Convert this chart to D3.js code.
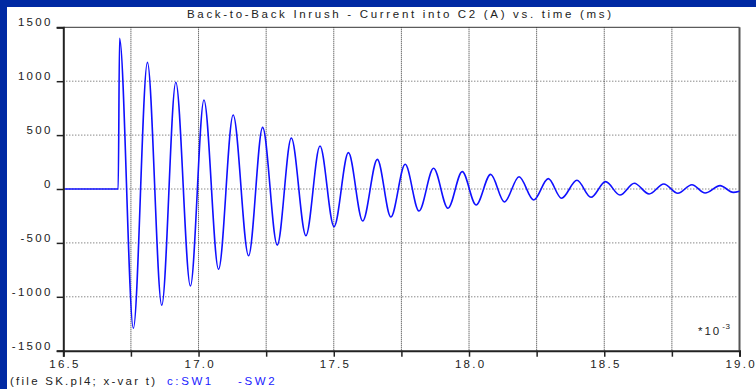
<!DOCTYPE html>
<html>
<head>
<meta charset="utf-8">
<script src="https://cdn.jsdelivr.net/npm/d3@7"></script>
<style>
  html, body { margin: 0; padding: 0; background: #fff; }
  svg { display: block; font-family: "Liberation Sans", Arial, sans-serif; }
</style>
</head>
<body>
<svg id="chart" width="756" height="389"></svg>
<script>
// chart data
const titleText = "Back-to-Back Inrush - Current into C2 (A) vs. time (ms)";
const yTicks = [-1500, -1000, -500, 0, 500, 1000, 1500];
const xTicks = [16.5, 16.75, 17.0, 17.25, 17.5, 17.75, 18.0, 18.25, 18.5, 18.75, 19.0];
const xLabels = [16.5, 17.0, 17.5, 18.0, 18.5, 19.0];

// time (ms) and current (A) at the step and at every extreme of the ringing
const timeMs = [16.5, 16.703, 16.708, 16.759, 16.811, 16.864, 16.916, 16.970, 17.020, 17.074,
  17.128, 17.185, 17.237, 17.291, 17.343, 17.397, 17.449, 17.501, 17.554, 17.607,
  17.661, 17.711, 17.764, 17.815, 17.869, 17.922, 17.975, 18.026, 18.080, 18.131,
  18.185, 18.239, 18.293, 18.342, 18.399, 18.451, 18.505, 18.558, 18.611, 18.666,
  18.720, 18.772, 18.824, 18.873, 18.928, 18.977, 19.0];
const currentA = [0, 0, 1398, -1292, 1175, -1079, 990, -900, 826, -745,
  686, -619, 572, -520, 473, -433, 399, -349, 337, -297,
  275, -260, 229, -204, 192, -179, 161, -148, 136, -120,
  114, -102, 96, -86, 81, -77, 68, -56, 53, -46,
  46, -40, 40, -37, 31, -31, -20];

const fileNote = "(file SK.pl4; x-var t)";
const seriesNames = ["c:SW1", "-SW2"];

const svg = d3.select('#chart');
const W = 756, H = 389;
const plot = { left: 63.3, right: 739.5, top: 27.3, bottom: 350.7 };

// blue frame on top and left
svg.append('rect').attr('width', W).attr('height', H).attr('fill', '#0029a3');
svg.append('rect').attr('x', 7).attr('y', 7).attr('width', W - 7).attr('height', H - 7).attr('fill', '#fff');

const x = d3.scaleLinear().domain([16.5, 19.0]).range([plot.left, plot.right]);
const y = d3.scaleLinear().domain([-1500, 1500]).range([plot.bottom, plot.top]);

// dotted grid
svg.append('g')
  .selectAll('line')
  .data(yTicks.filter(d => d !== -1500 && d !== 1500))
  .enter()
  .append('line')
  .attr('x1', plot.left).attr('x2', plot.right - 3)
  .attr('y1', d => y(d)).attr('y2', d => y(d))
  .attr('stroke', '#555').attr('stroke-width', 1).attr('stroke-dasharray', '1,2');

svg.append('g')
  .selectAll('line')
  .data(xTicks.filter(d => d !== 16.5 && d !== 19.0))
  .enter()
  .append('line')
  .attr('x1', d => x(d)).attr('x2', d => x(d))
  .attr('y1', plot.top).attr('y2', plot.bottom)
  .attr('stroke', '#333').attr('stroke-width', 1).attr('stroke-dasharray', '1,1');

// top and right frame
svg.append('line')
  .attr('x1', plot.left).attr('x2', plot.right).attr('y1', plot.top).attr('y2', plot.top)
  .attr('stroke', '#333').attr('stroke-width', 1);
svg.append('line')
  .attr('x1', plot.right).attr('x2', plot.right).attr('y1', plot.top).attr('y2', plot.bottom)
  .attr('stroke', '#555').attr('stroke-width', 2);

// current trace
const line = d3.line()
  .x((d, i) => x(timeMs[i]))
  .y(d => y(d))
  .curve(d3.curveMonotoneX);

svg.append('path')
  .datum(currentA)
  .attr('d', line)
  .attr('fill', 'none')
  .attr('stroke', '#1010ff')
  .attr('stroke-width', 1.6);

// axes
const yAxis = svg.append('g')
  .attr('transform', `translate(${plot.left},0)`)
  .call(d3.axisLeft(y).tickValues(yTicks).tickSize(6.6).tickPadding(4).tickFormat(d => String(d)));

const xAxis = svg.append('g')
  .attr('transform', `translate(0,${plot.bottom})`)
  .call(d3.axisBottom(x).tickValues(xTicks).tickSize(6).tickPadding(3)
    .tickFormat(d => xLabels.includes(d) ? d.toFixed(1) : ''));

[yAxis, xAxis].forEach(g => {
  g.select('.domain').attr('stroke', '#222').attr('stroke-width', 2);
  g.selectAll('.tick line').attr('stroke', '#222').attr('stroke-width', 1.5);
  g.selectAll('text')
    .attr('fill', '#222')
    .style('font-size', '11.5px')
    .style('letter-spacing', '2.3px');
});
yAxis.selectAll('text').attr('dy', '-1.5px');
xAxis.selectAll('text').attr('dy', '0.71em').attr('dx', '1.2px');

// title
svg.append('text')
  .attr('x', 187).attr('y', 18)
  .attr('textLength', 424).attr('lengthAdjust', 'spacing')
  .attr('fill', '#222')
  .style('font-size', '11.5px')
  .text(titleText);

// exponent note
const expo = svg.append('text')
  .attr('x', 698).attr('y', 335)
  .attr('fill', '#222')
  .style('font-size', '11.5px')
  .style('letter-spacing', '2px');
expo.append('tspan').text('*10');
expo.append('tspan').attr('dx', 1).attr('dy', -6).style('font-size', '8px').style('letter-spacing', '0.5px').text('-3');

// footer
svg.append('text')
  .attr('x', 10).attr('y', 384.5)
  .attr('textLength', 145).attr('lengthAdjust', 'spacing')
  .attr('fill', '#222')
  .style('font-size', '11.5px')
  .text(fileNote);
svg.append('g')
  .selectAll('text')
  .data(seriesNames)
  .enter()
  .append('text')
  .attr('x', (d, i) => i === 0 ? 167 : 238)
  .attr('y', 384.5)
  .attr('fill', '#1a1aff')
  .style('font-size', '11.5px')
  .style('letter-spacing', '2.6px')
  .text(d => d);
</script>
</body>
</html>
